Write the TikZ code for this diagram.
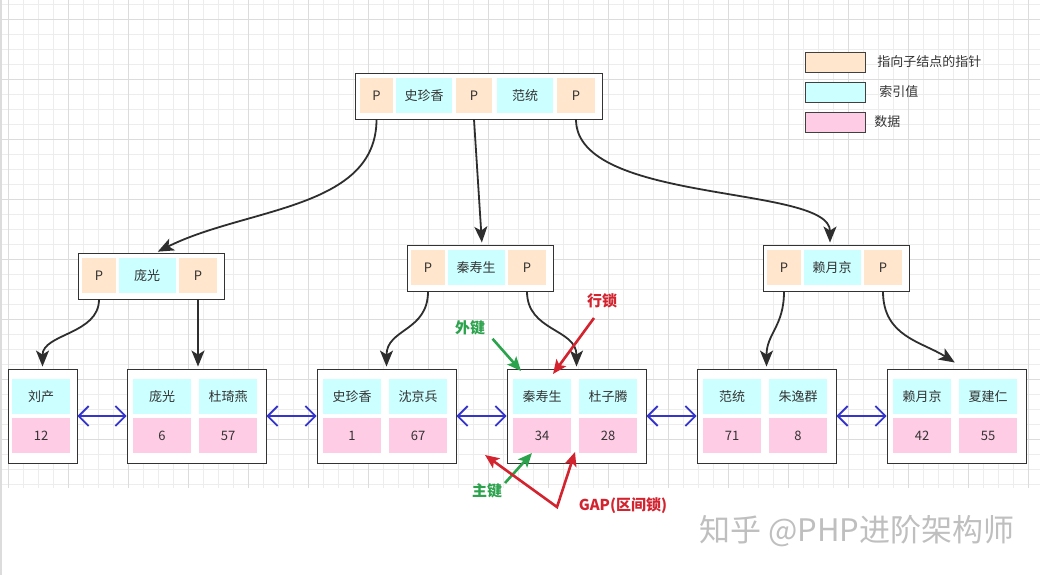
\documentclass[tikz,border=0pt]{standalone}
\usepackage{fontspec}
\setmainfont{Noto Sans CJK SC}
\usetikzlibrary{arrows.meta}

\definecolor{ptrfill}{HTML}{FFE6CC}
\definecolor{keyfill}{HTML}{CCFFFF}
\definecolor{valfill}{HTML}{FFCCE6}
\definecolor{linkblue}{HTML}{3535CC}
\definecolor{fkgreen}{HTML}{2BA24C}
\definecolor{lockred}{HTML}{D2232E}
\definecolor{gridminor}{HTML}{EDEDED}
\definecolor{gridmajor}{HTML}{DCDCDC}

\begin{document}
\begin{tikzpicture}[x=1pt,y=-1pt,
    font=\fontsize{13}{15}\selectfont,
    cell/.style={minimum height=35pt,inner sep=0pt,text=black!80},
    ptr/.style={cell,fill=ptrfill},
    keycell/.style={cell,fill=keyfill,minimum width=57pt},
    valcell/.style={cell,fill=valfill,minimum width=58pt},
    box/.style={draw=black!80,fill=white,line width=0.9pt,inner sep=0pt},
    legendbox/.style={draw=black!75,line width=0.9pt,minimum width=60pt,minimum height=20pt,inner sep=0pt},
    child/.style={draw=black!82,line width=1.8pt,shorten >=2pt,
      -{Stealth[length=16pt,width=13pt,inset=4pt]}},
    link/.style={draw=linkblue,line width=1.8pt,
      {Straight Barb[length=10pt,width=20pt]}-{Straight Barb[length=10pt,width=20pt]}},
    note/.style={font=\fontsize{15}{17}\selectfont\bfseries},
    pointer/.style={line width=2.6pt,-{Stealth[length=14pt,width=12pt,inset=3pt]}},
    ]
  \useasboundingbox (0,0) rectangle (1040,575);
  % background grid
  \foreach \gx in {8,23,...,1040} \draw[gridminor,line width=0.8pt] (\gx,0) -- (\gx,488);
  \foreach \gy in {4,19,...,488} \draw[gridminor,line width=0.8pt] (0,\gy) -- (1040,\gy);
  \foreach \gx in {8,68,...,1040} \draw[gridmajor,line width=0.8pt] (\gx,0) -- (\gx,488);
  \foreach \gy in {19,79,...,488} \draw[gridmajor,line width=0.8pt] (0,\gy) -- (1040,\gy);
  \draw[gridmajor,line width=1.5pt] (1,0) -- (1,575);

  % legend
  \node[legendbox,fill=ptrfill] (lg1) at (835.5,62) {};
  \node[legendbox,fill=keyfill] (lg2) at (835.5,92) {};
  \node[legendbox,fill=valfill] (lg3) at (835.5,122) {};
  \node[anchor=west,text=black!80] at ([xshift=8pt]lg1.east) {指向子结点的指针};
  \node[anchor=west,text=black!80] at ([xshift=10pt]lg2.east) {索引值};
  \node[anchor=west,text=black!80] at ([xshift=5pt]lg3.east) {数据};

  % root
  \node[box,minimum width=247pt,minimum height=46pt] (top) at (478.5,96) {};
  \node[ptr,minimum width=33pt] (tp1) at (376.5,95.5) {P};
  \node[keycell,minimum width=56pt] (tk1) at (424,95.5) {史珍香};
  \node[ptr,minimum width=36pt] (tp2) at (474,95.5) {P};
  \node[keycell,minimum width=56pt] (tk2) at (525,95.5) {范统};
  \node[ptr,minimum width=38pt] (tp3) at (576,95.5) {P};

  % second level
  \foreach \n/\x/\y/\k in {l/78/253/庞光, m/407/245/秦寿生, r/763/245/赖月京} {
    \node[box,minimum width=146pt,minimum height=46pt] (\n) at (\x+73,\y+23) {};
    \node[ptr,minimum width=34pt] (\n p1) at (\x+21,\y+22.5) {P};
    \node[keycell] (\n k) at (\x+69,\y+22.5) {\k};
    \node[ptr,minimum width=38pt] (\n p2) at (\x+120,\y+22.5) {P};
  }

  % leaves
  \node[box,minimum width=69pt,minimum height=94pt] (leaf1) at (42.5,416) {};
  \node[keycell,minimum width=58pt] (leaf1k1) at (41,396.5) {刘产};
  \node[valcell] (leaf1v1) at (41,435.5) {12};
  \foreach \n/\x/\ka/\va/\kb/\vb in {2/127/庞光/6/杜琦燕/57, 3/317/史珍香/1/沈京兵/67,
      4/507/秦寿生/34/杜子腾/28, 5/697/范统/71/朱逸群/8, 6/887/赖月京/42/夏建仁/55} {
    \node[box,minimum width=139pt,minimum height=94pt] (leaf\n) at (\x+69.5,416) {};
    \node[keycell,minimum width=58pt] (leaf\n k1) at (\x+35,396.5) {\ka};
    \node[valcell] (leaf\n v1) at (\x+35,435.5) {\va};
    \node[keycell,minimum width=58pt] (leaf\n k2) at (\x+101,396.5) {\kb};
    \node[valcell] (leaf\n v2) at (\x+101,435.5) {\vb};
  }
  \foreach \a/\b in {1/2,2/3,3/4,4/5,5/6}
    \draw[link] (leaf\a.east) -- (leaf\b.west);

  % pointers to children
  \draw[child] (tp1 |- top.south) .. controls +(0,90) and +(90,-45) .. ([xshift=5pt]l.north);
  \draw[child] (tp2 |- top.south) -- ([xshift=2pt]m.north);
  \draw[child] (tp3 |- top.south) .. controls +(0,85) and +(0,-60) .. ([xshift=-6pt]r.north);
  \draw[child] (lp1 |- l.south) .. controls +(0,35) and +(0,-35) .. (leaf1.north);
  \draw[child] (lp2 |- l.south) -- (lp2 |- leaf2.north);
  \draw[child] (mp1 |- m.south) .. controls +(0,40) and +(0,-40) .. (leaf3.north);
  \draw[child] (mp2 |- m.south) .. controls +(0,40) and +(0,-40) .. (leaf4.north);
  \draw[child] (rp1 |- r.south) .. controls +(0,35) and +(0,-35) .. (leaf5.north);
  \draw[child] (rp2 |- r.south) .. controls +(0,45) and +(-35,-22) .. ([yshift=5pt]leaf6.north);

  % locks and keys
  \node[note,text=fkgreen] (fk) at (470,328) {外键};
  \node[note,text=lockred] (rowlock) at (602,301) {行锁};
  \node[note,text=fkgreen] (pk) at (487,491) {主键};
  \node[note,text=lockred] (gap) at (623,506) {GAP(区间锁)};
  \coordinate (fk-tip) at (521,371);
  \coordinate (rowlock-from) at (594,318);
  \coordinate (rowlock-tip) at (553,374);
  \coordinate (pk-from) at (505,483);
  \coordinate (pk-tip) at (532,453);
  \coordinate (gap-a) at (485,455);
  \coordinate (gap-v) at (557,507);
  \coordinate (gap-b) at (575,452);
  \draw[pointer,fkgreen] ([xshift=4pt]fk.south east) -- (fk-tip);
  \draw[pointer,lockred] (rowlock-from) -- (rowlock-tip);
  \draw[pointer,fkgreen] (pk-from) -- (pk-tip);
  \draw[pointer,lockred,{Stealth[length=14pt,width=12pt,inset=3pt]}-{Stealth[length=14pt,width=12pt,inset=3pt]}]
    (gap-a) -- (gap-v) -- (gap-b);

  \node[text=black!25,font=\fontsize{31}{34}\selectfont] (mark) at (857,531) {知乎 @PHP进阶架构师};
\end{tikzpicture}
\end{document}
